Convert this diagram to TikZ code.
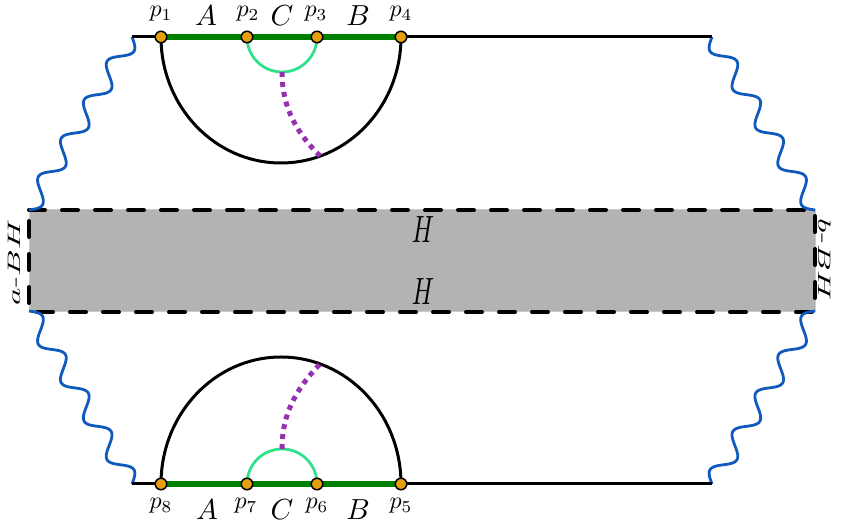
\documentclass[tikz,border=0pt]{standalone}
\definecolor{dotorange}{RGB}{230,160,15}
\definecolor{regiongreen}{RGB}{0,128,0}
\definecolor{lightgreen}{RGB}{50,225,140}
\definecolor{ewpurple}{RGB}{150,50,175}
\definecolor{waveblue}{RGB}{16,90,190}
\definecolor{holegray}{RGB}{179,179,179}
\begin{document}
\begin{tikzpicture}[x=1pt,y=1pt,
  bline/.style={line width=3pt, black},
  greenreg/.style={line width=5.5pt, regiongreen},
  innerarc/.style={line width=2.8pt, lightgreen},
  ewline/.style={line width=5pt, ewpurple, dash pattern=on 5pt off 5pt},
  bluewave/.style={line width=2.8pt, waveblue},
  endpt/.style={circle, fill=dotorange, draw=black, line width=1.5pt, minimum size=11.5pt, inner sep=0pt},
  plab/.style={anchor=base, inner sep=0pt, font=\normalsize, scale=2.4},
  rlab/.style={anchor=base, inner sep=0pt, font=\normalsize, scale=2.9},
  hlab/.style={anchor=base, inner sep=0pt, font=\normalsize, scale=2.45, yscale=1.55},
  sidelab/.style={anchor=base, inner sep=0pt, font=\normalsize, scale=1.8, xscale=1.84},
]
\useasboundingbox (0,0) rectangle (845,521);

% coordinates
\coordinate (tl) at (132,484);
\coordinate (tr) at (712,484);
\coordinate (bl) at (132,37);
\coordinate (br) at (712,37);
\coordinate (c1) at (161,484);
\coordinate (c2) at (247,484);
\coordinate (c3) at (317,484);
\coordinate (c4) at (401,484);
\coordinate (c5) at (401,37);
\coordinate (c6) at (317,37);
\coordinate (c7) at (247,37);
\coordinate (c8) at (161,37);
\coordinate (e1) at (282,449);
\coordinate (e2) at (320,365);
\coordinate (e3) at (282,72);
\coordinate (e4) at (320,157);

% horizon region
\node[fill=holegray, draw=holegray!70!white, line width=1pt, minimum width=786pt, minimum height=102pt, inner sep=0pt, outer sep=0pt] (hole) at (422,260) {};
\draw[line width=4pt, dash pattern=on 16pt off 17pt, line cap=round] (hole.north west) -- (hole.north east) -- (hole.south east) -- (hole.south west) -- cycle;
\node[hlab] (h1) at (423,278) {$H$};
\node[hlab] (h2) at (423,216) {$H$};
\node[rotate=90, sidelab] (abh) at (20,258.5) {$a$-$BH$};
\node[rotate=-90, sidelab] (bbh) at (818,261) {$b$-$BH$};

% waves
\begin{scope}[shift={(132,484)}, rotate=-120.77]
\draw[bluewave] plot[domain=0:201.3, samples=160] (\x, {9*sin(\x/201.3*1620)});
\end{scope}
\begin{scope}[shift={(712,484)}, rotate=-59.23]
\draw[bluewave] plot[domain=0:201.3, samples=160] (\x, {-9*sin(\x/201.3*1620)});
\end{scope}
\begin{scope}[shift={(132,37)}, rotate=120.77]
\draw[bluewave] plot[domain=0:201.3, samples=160] (\x, {-9*sin(\x/201.3*1620)});
\end{scope}
\begin{scope}[shift={(712,37)}, rotate=59.23]
\draw[bluewave] plot[domain=0:201.3, samples=160] (\x, {9*sin(\x/201.3*1620)});
\end{scope}

% top boundary
\draw[bline] (tl) -- (tr);
\draw[greenreg] (c1) -- (c4);
\draw[bline] (c1) arc[start angle=180, end angle=360, x radius=120, y radius=126];
\draw[innerarc] (c2) arc[start angle=180, end angle=360, radius=35];
\draw[ewline] (e1) .. controls (282,410) and (300,385) .. (e2);

% bottom boundary
\draw[bline] (bl) -- (br);
\draw[greenreg] (c8) -- (c5);
\draw[bline] (c8) arc[start angle=180, end angle=0, x radius=120, y radius=127];
\draw[innerarc] (c7) arc[start angle=180, end angle=0, radius=35];
\draw[ewline] (e3) .. controls (282,111) and (300,136) .. (e4);

% points
\foreach \i in {1,...,8} \node[endpt] (p\i) at (c\i) {};

% labels top
\node[plab] (l1) at (161,504) {$p_1$};
\node[rlab] (la) at (206,495) {$A$};
\node[plab] (l2) at (248,504) {$p_2$};
\node[rlab] (lc) at (282,495) {$C$};
\node[plab] (l3) at (316,504) {$p_3$};
\node[rlab] (lb) at (358,495) {$B$};
\node[plab] (l4) at (401,504) {$p_4$};
% labels bottom
\node[plab] (l8) at (161,12) {$p_8$};
\node[rlab] (la2) at (207,1) {$A$};
\node[plab] (l7) at (246,12) {$p_7$};
\node[rlab] (lc2) at (282,1) {$C$};
\node[plab] (l6) at (317,12) {$p_6$};
\node[rlab] (lb2) at (358,1) {$B$};
\node[plab] (l5) at (401,12) {$p_5$};
\end{tikzpicture}
\end{document}
